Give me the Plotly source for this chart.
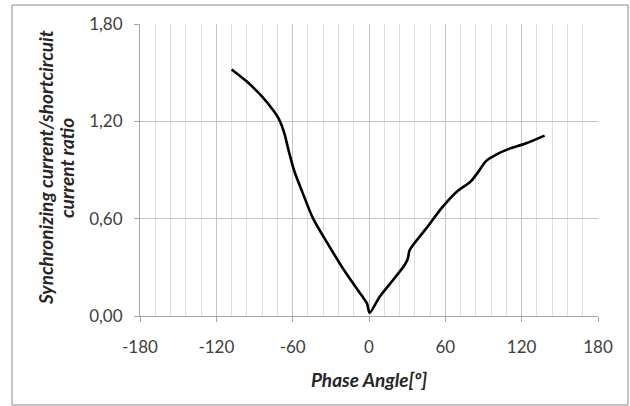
import plotly.graph_objects as go

# Synchronizing current / short-circuit current ratio vs phase angle
phase_angle = [-108, -96, -84, -75, -71.2, -68.8, -66.2, -63.5, -59, -52, -44, -31, -18, -6, -1.6, 0.5,
               8.4, 18.9, 28, 30.6, 32, 45, 58, 69, 80, 86, 92, 100, 110, 123.6, 138]
current_ratio = [1.52, 1.445, 1.352, 1.265, 1.22, 1.178, 1.116, 1.03, 0.90, 0.756, 0.602, 0.427,
                 0.263, 0.129, 0.078, 0.02, 0.119, 0.222, 0.314, 0.356, 0.407, 0.54, 0.674,
                 0.766, 0.83, 0.89, 0.955, 0.995, 1.03, 1.065, 1.112]

x_ticks = [-180, -120, -60, 0, 60, 120, 180]
y_ticks = [0.0, 0.6, 1.2, 1.8]
y_tick_text = ["0,00", "0,60", "1,20", "1,80"]

FONT = "Lato"
TITLE_SIZE = 19
fig = go.Figure()
fig.add_trace(go.Scatter(
    x=phase_angle, y=current_ratio, mode="lines",
    line=dict(color="black", width=2.6, shape="spline", smoothing=0.8),
    showlegend=False, hoverinfo="skip",
))

grid_major = "#c4c4c4"
grid_minor = "#dedede"

fig.update_layout(
    width=630, height=406,
    margin=dict(l=140, r=32, t=24, b=90),
    paper_bgcolor="white", plot_bgcolor="white",
    font=dict(family=FONT, size=17, color="#404040"),
    xaxis=dict(
        range=[-180, 180], tickvals=x_ticks, ticktext=[str(v) for v in x_ticks],
        showgrid=True, gridcolor=grid_major, gridwidth=1,
        minor=dict(dtick=12, tick0=-180, showgrid=True, gridcolor=grid_minor, gridwidth=1),
        showline=True, linecolor="#a6a6a6", linewidth=1,
        ticks="outside", ticklen=5, tickcolor="#a6a6a6",
        zeroline=False, ticklabelstandoff=11,
        title=dict(text="<b><i>Phase Angle[º]</i></b>", font=dict(family=FONT, size=TITLE_SIZE, color="#262626"), standoff=17),
    ),
    yaxis=dict(
        range=[0, 1.8], tickvals=y_ticks, ticktext=y_tick_text,
        showgrid=True, gridcolor=grid_major, gridwidth=1,
        showline=True, linecolor="#a6a6a6", linewidth=1,
        ticks="outside", ticklen=5, tickcolor="#a6a6a6",
        zeroline=False, ticklabelstandoff=8,
    ),
)

# Two-line rotated y-axis title
fig.add_annotation(
    xref="paper", yref="paper", x=(45 - 140) / 458, y=(316 - 168) / 292,
    text="<b><i>Synchronizing current/shortcircuit</i></b>", textangle=-90,
    showarrow=False, font=dict(family=FONT, size=TITLE_SIZE, color="#262626"),
    xanchor="center", yanchor="middle",
)
fig.add_annotation(
    xref="paper", yref="paper", x=(66 - 140) / 458, y=(316 - 168) / 292,
    text="<b><i>current ratio</i></b>", textangle=-90,
    showarrow=False, font=dict(family=FONT, size=TITLE_SIZE, color="#262626"),
    xanchor="center", yanchor="middle",
)

# Chart-area border
fig.add_shape(
    type="rect", xref="paper", yref="paper",
    x0=(12 - 140) / 458, x1=(628 - 140) / 458,
    y0=(316 - 405) / 292, y1=(316 - 5) / 292,
    line=dict(color="#8c8c8c", width=1), fillcolor="rgba(0,0,0,0)", layer="below",
)

fig.write_html("out.html")
